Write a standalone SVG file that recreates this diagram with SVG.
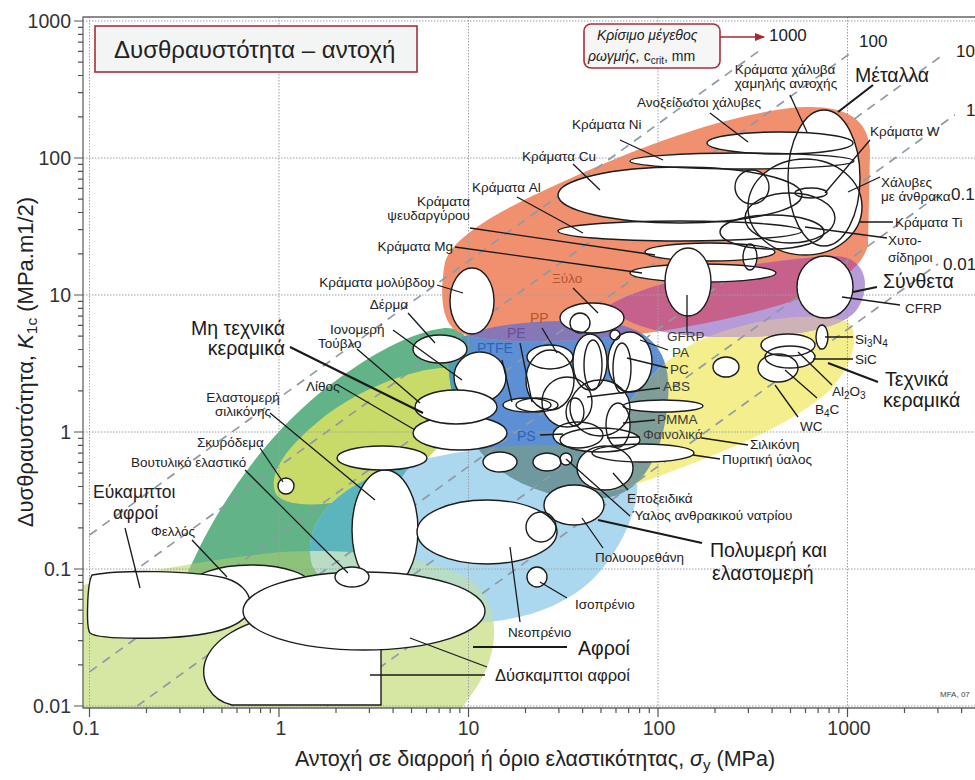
<svg xmlns="http://www.w3.org/2000/svg" width="975" height="780" viewBox="0 0 975 780">
<style>
text{font-family:"Liberation Sans",Arial,"DejaVu Sans",sans-serif;fill:#222}
.l{font-size:13.5px}
.g{font-size:19.5px;fill:#1a1a1a}
.ax{font-size:19.5px;fill:#333}
.ck{font-size:17px;fill:#222}
.grid{stroke:#9aa0a4;stroke-width:1;stroke-dasharray:1.5 1.5;fill:none}
.crack{stroke:#8e9aa5;stroke-width:1.7;stroke-dasharray:9 7;fill:none}
.lead{stroke:#1a1a1a;stroke-width:1.3;fill:none}
.leadb{stroke:#1a1a1a;stroke-width:2.2;fill:none}
.b{fill:#fff;stroke:#1c1c1c;stroke-width:1.4}
</style>
<defs>
  <marker id="arr" viewBox="0 0 10 10" refX="9" refY="5" markerWidth="7" markerHeight="7" orient="auto">
    <path d="M0,1 L10,5 L0,9 z" fill="#a52a35"/>
  </marker>
  <!-- material-family envelopes -->
  <path id="env-foam" d="M83,585 C130,575 200,560 280,552 C350,548 430,555 470,580 C500,600 502,650 476,688 L462,708 L83,708 Z"/>
  <path id="env-natural" d="M185,580 C215,505 270,430 330,385 C370,355 410,332 445,328 C468,327 478,350 470,380 C460,415 420,450 400,480 C385,505 378,560 350,600 C300,612 225,600 185,580 Z"/>
  <path id="env-nontech" d="M275,492 C268,470 290,445 320,420 C350,395 400,372 440,368 C470,366 480,390 460,420 C440,450 400,490 350,500 C310,508 280,505 275,492 Z"/>
  <path id="env-elast" d="M312,565 C300,520 340,480 420,460 C500,442 580,438 625,458 C652,474 632,540 592,580 C560,610 510,625 460,622 C400,618 328,600 312,565 Z"/>
  <path id="env-poly" d="M452,345 C470,325 540,318 600,322 C650,326 672,350 668,400 C664,450 645,490 610,497 C565,505 515,485 490,462 C462,436 440,375 452,345 Z"/>
  <path id="env-ceram" d="M590,485 C600,440 640,370 700,340 C750,318 820,310 848,322 C862,335 852,368 828,392 C790,425 730,450 670,472 C630,487 595,500 590,485 Z"/>
  <path id="env-metal" d="M445,262 C452,238 495,213 545,190 C610,160 700,120 790,108 C840,103 868,115 870,150 L868,245 C862,270 830,290 780,305 C720,322 660,333 600,338 C540,344 480,342 458,332 C440,322 440,290 445,262 Z"/>
  <path id="env-comp" d="M610,305 C640,285 740,262 830,256 C866,254 872,285 858,308 C845,328 800,336 740,337 C680,338 625,330 610,305 Z"/>
  <clipPath id="cp-natural"><use href="#env-natural"/></clipPath>
  <clipPath id="cp-elast"><use href="#env-elast"/></clipPath>
  <clipPath id="cp-poly"><use href="#env-poly"/></clipPath>
  <clipPath id="cp-metal"><use href="#env-metal"/></clipPath>
  <clipPath id="cp-ceram"><use href="#env-ceram"/></clipPath>

  <!-- metal bubbles (filled first, outlined afterwards) -->
  <ellipse id="m-lowsteel" cx="824" cy="178" rx="36" ry="68"/>
  <ellipse id="m-carbon" cx="805" cy="207" rx="57" ry="48"/>
  <ellipse id="m-ti" cx="790" cy="218" rx="45" ry="25"/>
  <ellipse id="m-cast" cx="772" cy="232" rx="52" ry="17"/>
  <ellipse id="m-stain" cx="780" cy="143" rx="73" ry="11"/>
  <ellipse id="m-ni" cx="742" cy="161" rx="112" ry="8"/>
  <ellipse id="m-cu" cx="680" cy="195" rx="122" ry="28"/>
  <ellipse id="m-al" cx="680" cy="231" rx="122" ry="10"/>
  <ellipse id="m-zn" cx="710" cy="252" rx="65" ry="9"/>
  <ellipse id="m-mg" cx="703" cy="273" rx="73" ry="9"/>
  <circle id="m-circ" cx="752" cy="187" r="17"/>
  <ellipse id="m-w" cx="811" cy="193" rx="16" ry="5"/>
  <ellipse id="m-small" cx="750" cy="257" rx="7" ry="13"/>

  <!-- polymer / elastomer bubbles -->
  <ellipse id="p-wood" cx="592" cy="318" rx="32" ry="15"/>
  <circle id="p-woodc" cx="580" cy="323" r="10"/>
  <ellipse id="p-ppbody" cx="550" cy="380" rx="24" ry="30"/>
  <ellipse id="p-pp" cx="550" cy="357" rx="23" ry="12"/>
  <ellipse id="p-mid" cx="600" cy="408" rx="30" ry="28"/>
  <ellipse id="p-tall1" cx="590" cy="362" rx="17" ry="28"/>
  <ellipse id="p-tall2" cx="593" cy="365" rx="9" ry="25"/>
  <circle id="p-dot" cx="615" cy="335" r="5"/>
  <ellipse id="p-pa" cx="630" cy="362" rx="22" ry="30"/>
  <ellipse id="p-pc" cx="622" cy="368" rx="9" ry="25"/>
  <ellipse id="p-abs" cx="567" cy="402" rx="25" ry="25"/>
  <ellipse id="p-v" cx="575" cy="412" rx="9" ry="14"/>
  <ellipse id="p-phen" cx="600" cy="440" rx="40" ry="12"/>
  <ellipse id="p-ps" cx="578" cy="435" rx="25" ry="13"/>
  <ellipse id="p-pmma" cx="618" cy="425" rx="12" ry="22"/>
  <ellipse id="p-flat" cx="663" cy="406" rx="40" ry="6"/>
  <ellipse id="p-epoxy" cx="605" cy="468" rx="28" ry="22"/>
  <ellipse id="p-pyrex" cx="643" cy="453" rx="51" ry="9"/>
  <circle id="p-soda" cx="566" cy="459" r="6"/>
  <ellipse id="p-e1" cx="500" cy="462" rx="17" ry="10"/>
  <ellipse id="p-e2" cx="547" cy="462" rx="14" ry="9"/>
  <ellipse id="p-pe" cx="527" cy="405" rx="24" ry="7"/>
  <ellipse id="p-ptfe" cx="537" cy="405" rx="21" ry="7"/>
  <ellipse id="p-neo" cx="487" cy="532" rx="70" ry="32"/>
  <ellipse id="p-pu" cx="574" cy="505" rx="30" ry="20"/>
  <circle id="p-circ" cx="541" cy="527" r="15"/>
  <ellipse id="p-iso" cx="537" cy="577" rx="10" ry="10"/>

  <!-- technical ceramic bubbles -->
  <ellipse id="c-sic" cx="788" cy="345" rx="27" ry="11"/>
  <ellipse id="c-al2o3" cx="790" cy="357" rx="25" ry="11"/>
  <ellipse id="c-b4c" cx="778" cy="368" rx="20" ry="14"/>
  <ellipse id="c-wc" cx="726" cy="367" rx="13" ry="10"/>
</defs>

<rect width="975" height="780" fill="#fff"/>

<!-- envelopes -->
<g id="envelopes">
  <use href="#env-foam" fill="#d5e7a2"/>
  <use href="#env-natural" fill="#62b387"/>
  <use href="#env-foam" fill="#8cc27a" clip-path="url(#cp-natural)"/>
  <use href="#env-nontech" fill="#c8da68"/>
  <use href="#env-elast" fill="#acd8ef"/>
  <use href="#env-natural" fill="#5cb5bd" clip-path="url(#cp-elast)"/>
  <use href="#env-foam" fill="#b8dcc4" clip-path="url(#cp-elast)"/>
  <use href="#env-poly" fill="#5d8fd5"/>
  <use href="#env-elast" fill="#6f989f" clip-path="url(#cp-poly)"/>
  <use href="#env-natural" fill="#4f9db5" clip-path="url(#cp-poly)"/>
  <use href="#env-ceram" fill="#f4ef8c"/>
  <use href="#env-poly" fill="#7f9d98" clip-path="url(#cp-ceram)"/>
  <use href="#env-metal" fill="#f0906f"/>
  <use href="#env-poly" fill="#8677b7" clip-path="url(#cp-metal)"/>
  <use href="#env-comp" fill="#b59bd8"/>
  <use href="#env-comp" fill="#c6618c" clip-path="url(#cp-metal)"/>
  <use href="#env-comp" fill="#cdb3b8" clip-path="url(#cp-ceram)"/>
</g>

<!-- grid, frame, ticks -->
<g id="grid">
  <path class="grid" d="M89.5,17V708 M279,17V708 M468.5,17V708 M658,17V708 M847.5,17V708
    M83,21H975 M83,158H975 M83,295H975 M83,432H975 M83,569H975 M83,706H975"/>
  <path d="M975,17H83V708H975" fill="none" stroke="#666" stroke-width="1.3"/>
  <path fill="none" stroke="#555" stroke-width="1.2" d="
    M74,21H83 M74,158H83 M74,295H83 M74,432H83 M74,569H83 M74,706H83
    M78,664.8h5 M78,640.6h5 M78,623.5h5 M78,610.2h5 M78,599.4h5 M78,590.2h5 M78,582.3h5 M78,575.3h5
    M78,527.8h5 M78,503.6h5 M78,486.5h5 M78,473.2h5 M78,462.4h5 M78,453.2h5 M78,445.3h5 M78,438.3h5
    M78,390.8h5 M78,366.6h5 M78,349.5h5 M78,336.2h5 M78,325.4h5 M78,316.2h5 M78,308.3h5 M78,301.3h5
    M78,253.8h5 M78,229.6h5 M78,212.5h5 M78,199.2h5 M78,188.4h5 M78,179.2h5 M78,171.3h5 M78,164.3h5
    M78,116.8h5 M78,92.6h5 M78,75.5h5 M78,62.2h5 M78,51.4h5 M78,42.2h5 M78,34.3h5 M78,27.3h5
    M89.5,708v9 M279,708v9 M468.5,708v9 M658,708v9 M847.5,708v9
    M146.5,708v5 M179.9,708v5 M203.6,708v5 M222,708v5 M237,708v5 M249.6,708v5 M260.6,708v5 M270.3,708v5
    M336,708v5 M369.4,708v5 M393.1,708v5 M411.5,708v5 M426.5,708v5 M439.1,708v5 M450.1,708v5 M459.8,708v5
    M525.5,708v5 M558.9,708v5 M582.6,708v5 M601,708v5 M616,708v5 M628.6,708v5 M639.6,708v5 M649.3,708v5
    M715,708v5 M748.4,708v5 M772.1,708v5 M790.5,708v5 M805.5,708v5 M818.1,708v5 M829.1,708v5 M838.8,708v5
    M904.5,708v5 M937.9,708v5 M961.6,708v5"/>
</g>

<!-- critical crack size guide lines -->
<g id="crack-lines">
  <path class="crack" d="M89.5,535 L763,48"/>
  <path class="crack" d="M89.5,603.4 L852,52"/>
  <path class="crack" d="M89.5,671.9 L945,53.4"/>
  <path class="crack" d="M137.2,706 L955,114.7"/>
  <path class="crack" d="M231.9,706 L940,194"/>
  <path class="crack" d="M326.6,706 L938,264"/>
  <text class="ck" x="769" y="41">1000</text>
  <text class="ck" x="859" y="47">100</text>
  <text class="ck" x="956" y="57">10</text>
  <text class="ck" x="966" y="116">1</text>
  <text class="ck" x="951" y="200">0.1</text>
  <text class="ck" x="943" y="270">0.01</text>
</g>

<!-- foams and natural materials -->
<g id="foams">
  <ellipse id="cork" class="b" cx="251" cy="587" rx="61" ry="22"/>
  <path id="flexible-foam" class="b" d="M92,575 C120,570 190,570 225,578 C245,584 252,597 250,608 C246,626 215,636 160,638 C120,639 95,637 90,633 C86,628 87,584 92,575 Z"/>
  <path id="rigid-foam" class="b" d="M381,705 L232,705 C210,700 200,680 205,662 C212,640 240,622 285,614 C325,608 365,612 381,630 Z"/>
  <ellipse id="silicone-elastomer" class="b" cx="385" cy="530" rx="33" ry="60"/>
  <ellipse id="foam-elastomer" class="b" cx="364" cy="611" rx="121" ry="39"/>
  <ellipse id="butyl" class="b" cx="352" cy="577" rx="17" ry="10"/>
</g>
<g id="non-technical">
  <ellipse id="leather" class="b" cx="440" cy="349" rx="27" ry="14"/>
  <ellipse id="ionomer" class="b" cx="480" cy="377" rx="26" ry="25"/>
  <ellipse id="stone" class="b" cx="460" cy="433" rx="47" ry="17"/>
  <ellipse id="brick" class="b" cx="456" cy="407" rx="41" ry="17"/>
  <ellipse id="ceramic-misc" class="b" cx="382" cy="458" rx="45" ry="12"/>
  <circle id="concrete" class="b" cx="286" cy="486" r="8"/>
</g>

<!-- polymers and elastomers -->
<g id="polymers">
  <g fill="#fff" stroke="none">
    <use href="#p-neo"/><use href="#p-pu"/><use href="#p-circ"/><use href="#p-iso"/>
    <use href="#p-wood"/><use href="#p-woodc"/><use href="#p-ppbody"/><use href="#p-pp"/><use href="#p-mid"/>
    <use href="#p-tall1"/><use href="#p-tall2"/><use href="#p-dot"/><use href="#p-pa"/><use href="#p-pc"/>
    <use href="#p-abs"/><use href="#p-v"/><use href="#p-phen"/><use href="#p-ps"/><use href="#p-pmma"/>
    <use href="#p-flat"/><use href="#p-epoxy"/><use href="#p-pyrex"/><use href="#p-soda"/>
    <use href="#p-e1"/><use href="#p-e2"/><use href="#p-pe"/><use href="#p-ptfe"/>
  </g>
  <g fill="none" stroke="#1c1c1c" stroke-width="1.4">
    <use href="#p-neo"/><use href="#p-pu"/><use href="#p-circ"/><use href="#p-iso"/>
    <use href="#p-wood"/><use href="#p-woodc"/><use href="#p-ppbody"/><use href="#p-pp"/><use href="#p-mid"/>
    <use href="#p-tall1"/><use href="#p-tall2"/><use href="#p-dot"/><use href="#p-pa"/><use href="#p-pc"/>
    <use href="#p-abs"/><use href="#p-v"/><use href="#p-phen"/><use href="#p-ps"/><use href="#p-pmma"/>
    <use href="#p-flat"/><use href="#p-epoxy"/><use href="#p-pyrex"/><use href="#p-soda"/>
    <use href="#p-e1"/><use href="#p-e2"/><use href="#p-pe"/><use href="#p-ptfe"/>
  </g>
</g>

<!-- metals -->
<g id="metals">
  <g fill="#fff" stroke="none">
    <use href="#m-lowsteel"/><use href="#m-carbon"/><use href="#m-ti"/><use href="#m-cast"/>
    <use href="#m-stain"/><use href="#m-ni"/><use href="#m-cu"/><use href="#m-al"/>
    <use href="#m-zn"/><use href="#m-mg"/><use href="#m-circ"/><use href="#m-w"/><use href="#m-small"/>
  </g>
  <g fill="none" stroke="#1c1c1c" stroke-width="1.4">
    <use href="#m-lowsteel"/><use href="#m-carbon"/><use href="#m-ti"/><use href="#m-cast"/>
    <use href="#m-stain"/><use href="#m-ni"/><use href="#m-cu"/><use href="#m-al"/>
    <use href="#m-zn"/><use href="#m-mg"/><use href="#m-circ"/><use href="#m-w"/><use href="#m-small"/>
  </g>
  <ellipse id="lead" class="b" cx="472" cy="301" rx="22" ry="33"/>
  <ellipse id="gfrp" class="b" cx="688" cy="282" rx="23" ry="34"/>
  <ellipse id="cfrp" class="b" cx="825" cy="287" rx="28" ry="31"/>
</g>

<!-- technical ceramics -->
<g id="ceramics">
  <g fill="#fff" stroke="none">
    <use href="#c-sic"/><use href="#c-al2o3"/><use href="#c-b4c"/><use href="#c-wc"/>
  </g>
  <g fill="none" stroke="#1c1c1c" stroke-width="1.4">
    <use href="#c-sic"/><use href="#c-al2o3"/><use href="#c-b4c"/><use href="#c-wc"/>
  </g>
  <ellipse id="si3n4" class="b" cx="822" cy="337" rx="6" ry="12"/>
</g>

<!-- leader lines -->
<g id="connectors">
  <path class="lead" d="M790,95 L807,132 M710,113 L748,142 M870,140 L825,193 M880,177 L848,192
    M860,222 L893,222 M887,238 L805,227 M620,140 L663,160 M573,164 L600,190 M517,197 L583,233
    M470,228 L655,255 M455,247 L642,273 M437,285 L463,293 M573,288 L598,313 M542,328 L557,353
    M520,343 L532,402 M502,360 L512,402 M408,313 L435,343 M393,330 L462,380 M357,349 L420,403
    M338,385 L415,430 M270,413 L375,500 M260,448 L283,482 M245,470 L348,573 M125,528 L140,588
    M192,540 L227,577 M687,295 L687,333 M640,340 L668,350 M627,358 L668,368 M587,397 L660,388
    M623,423 L655,420 M607,438 L640,437 M540,435 L563,434 M702,438 L748,445 M693,455 L720,459
    M613,473 L628,490 M566,459 L630,516 M582,518 L603,548 M510,547 L520,622 M540,582 L567,598
    M370,675 L485,675 M410,638 L487,667 M842,297 L900,305 M825,337 L853,337 M813,359 L853,359
    M798,352 L832,385 M785,370 L817,398 M775,385 L798,417"/>
  <path class="leadb" d="M873,85 L838,112 M290,347 L423,413 M598,520 L702,543 M473,647 L567,647
    M853,292 L877,287 M828,363 L878,382"/>
  <path d="M720,37 L764,37" stroke="#a52a35" stroke-width="1.5" marker-end="url(#arr)"/>
</g>

<!-- labels -->
<g id="labels" class="l">
  <text x="785" y="74" text-anchor="middle">Κράματα χάλυβα</text>
  <text x="786" y="88" text-anchor="middle">χαμηλής αντοχής</text>
  <text x="637" y="107">Ανοξείδωτοι χάλυβες</text>
  <text x="870" y="136">Κράματα W</text>
  <text x="881" y="187">Χάλυβες</text>
  <text x="881" y="201">με άνθρακα</text>
  <text x="895" y="227">Κράματα Ti</text>
  <text x="888" y="245">Χυτο-</text>
  <text x="888" y="262">σίδηροι</text>
  <text x="572" y="129">Κράματα Ni</text>
  <text x="522" y="161">Κράματα Cu</text>
  <text x="472" y="192">Κράματα Al</text>
  <text x="470" y="206" text-anchor="end">Κράματα</text>
  <text x="470" y="220" text-anchor="end">ψευδαργύρου</text>
  <text x="453" y="251" text-anchor="end">Κράματα Mg</text>
  <text x="435" y="287" text-anchor="end">Κράματα μολύβδου</text>
  <text x="552" y="283" style="fill:#b4552c">Ξύλο</text>
  <text x="530" y="323" style="fill:#b4552c;font-size:14px">PP</text>
  <text x="507" y="338" style="fill:#6b4c9a;font-size:14px">PE</text>
  <text x="477" y="353" style="fill:#2f62b4;font-size:14px">PTFE</text>
  <text x="408" y="309" text-anchor="end">Δέρμα</text>
  <text x="330" y="334">Ιονομερή</text>
  <text x="318" y="348">Τούβλο</text>
  <text x="306" y="391">Λίθος</text>
  <text x="243" y="402" text-anchor="middle">Ελαστομερή</text>
  <text x="243" y="416" text-anchor="middle">σιλικόνης</text>
  <text x="197" y="447">Σκυρόδεμα</text>
  <text x="131" y="467">Βουτυλικό ελαστικό</text>
  <text x="151" y="536">Φελλός</text>
  <text x="667" y="341" style="fill:#3a3a3a;font-size:13.5px">GFRP</text>
  <text x="672" y="357" style="fill:#3a3a3a;font-size:13.5px">PA</text>
  <text x="670" y="374" style="fill:#3a3a3a;font-size:13.5px">PC</text>
  <text x="663" y="391" style="fill:#3a3a3a;font-size:13.5px">ABS</text>
  <text x="657" y="424" style="fill:#3a3a3a;font-size:13.5px">PMMA</text>
  <text x="643" y="439" style="fill:#3a3a3a">Φαινολικά</text>
  <text x="517" y="441" style="fill:#2f62b4;font-size:14px">PS</text>
  <text x="750" y="449">Σιλικόνη</text>
  <text x="722" y="464">Πυριτική ύαλος</text>
  <text x="627" y="503">Εποξειδικά</text>
  <text x="632" y="520">Ύαλος ανθρακικού νατρίου</text>
  <text x="595" y="562">Πολυουρεθάνη</text>
  <text x="575" y="609">Ισοπρένιο</text>
  <text x="508" y="637">Νεοπρένιο</text>
  <text x="855" y="344" style="font-size:13.5px">Si<tspan dy="3" font-size="10">3</tspan><tspan dy="-3">N</tspan><tspan dy="3" font-size="10">4</tspan></text>
  <text x="855" y="364" style="font-size:13.5px">SiC</text>
  <text x="832" y="396" style="font-size:13.5px">Al<tspan dy="3" font-size="10">2</tspan><tspan dy="-3">O</tspan><tspan dy="3" font-size="10">3</tspan></text>
  <text x="815" y="414" style="font-size:13.5px">B<tspan dy="3" font-size="10">4</tspan><tspan dy="-3">C</tspan></text>
  <text x="800" y="431" style="font-size:13.5px">WC</text>
  <text x="905" y="313" style="font-size:13.5px">CFRP</text>
  <text x="940" y="697" style="font-size:8px;fill:#444">MFA, 07</text>

  <text class="g" x="855" y="82">Μέταλλα</text>
  <text class="g" x="883" y="288">Σύνθετα</text>
  <text class="g" x="885" y="386">Τεχνικά</text>
  <text class="g" x="883" y="407">κεραμικά</text>
  <text class="g" x="285" y="335" text-anchor="end">Μη τεχνικά</text>
  <text class="g" x="285" y="355" text-anchor="end">κεραμικά</text>
  <text class="g" x="710" y="557">Πολυμερή και</text>
  <text class="g" x="712" y="580">ελαστομερή</text>
  <text class="g" x="578" y="655">Αφροί</text>
  <text x="495" y="681" style="font-size:16.5px">Δύσκαμπτοι αφροί</text>
  <text x="93" y="498" style="font-size:17.5px">Εύκαμπτοι</text>
  <text x="113" y="519" style="font-size:17.5px">αφροί</text>
</g>

<!-- title and crack-size legend -->
<g id="title-box">
  <rect x="95" y="26" width="322" height="46" fill="#f3f5f5" stroke="#a3303c" stroke-width="1.6"/>
  <text x="114" y="58" style="font-size:24px;fill:#222">Δυσθραυστότητα – αντοχή</text>
</g>
<g id="crack-legend">
  <rect x="584" y="24" width="136" height="44" rx="7" fill="#f6f6f6" stroke="#a3303c" stroke-width="1.6"/>
  <text x="597" y="40" style="font-size:14px;font-style:italic">Κρίσιμο μέγεθος</text>
  <text x="588" y="61" style="font-size:14px;font-style:italic">ρωγμής, <tspan font-style="normal">c</tspan><tspan dy="3" font-size="10" font-style="normal">crit</tspan><tspan dy="-3" font-style="normal">, mm</tspan></text>
</g>

<!-- axes -->
<g id="axis-labels">
  <text class="ax" x="71" y="28" text-anchor="end">1000</text>
  <text class="ax" x="71" y="165" text-anchor="end">100</text>
  <text class="ax" x="71" y="302" text-anchor="end">10</text>
  <text class="ax" x="71" y="439" text-anchor="end">1</text>
  <text class="ax" x="71" y="576" text-anchor="end">0.1</text>
  <text class="ax" x="71" y="713" text-anchor="end">0.01</text>
  <text class="ax" x="86" y="735" text-anchor="middle">0.1</text>
  <text class="ax" x="281" y="735" text-anchor="middle">1</text>
  <text class="ax" x="468.5" y="735" text-anchor="middle">10</text>
  <text class="ax" x="659" y="735" text-anchor="middle">100</text>
  <text class="ax" x="849" y="735" text-anchor="middle">1000</text>
  <text x="535" y="766" text-anchor="middle" style="font-size:21.5px">Αντοχή σε διαρροή ή όριο ελαστικότητας, <tspan font-style="italic">σ</tspan><tspan dy="4" font-size="15">y</tspan><tspan dy="-4"> (MPa)</tspan></text>
  <text transform="translate(33,362) rotate(-90)" text-anchor="middle" style="font-size:22px">Δυσθραυστότητα, <tspan font-style="italic">K</tspan><tspan dy="4" font-size="15.5">1c</tspan><tspan dy="-4"> (MPa.m1/2)</tspan></text>
</g>
</svg>
